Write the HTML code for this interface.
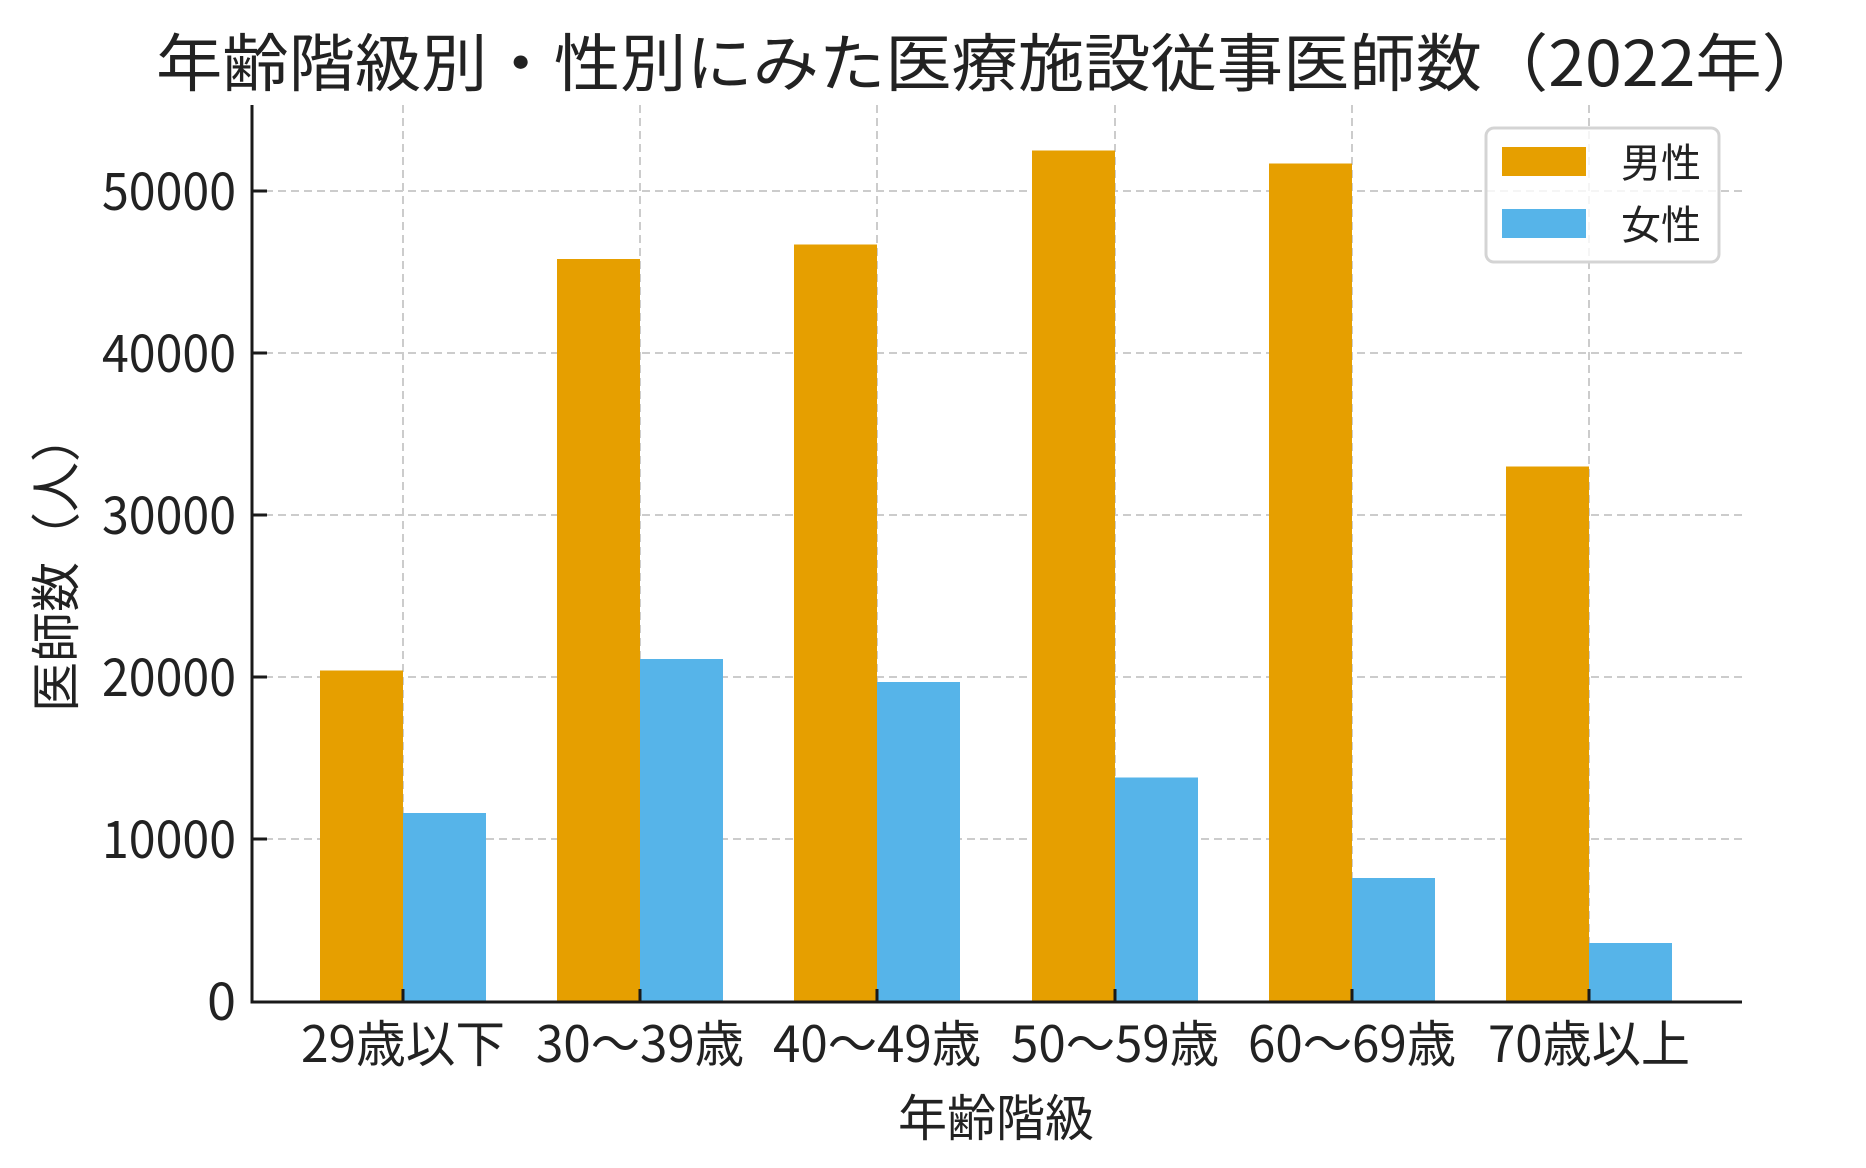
<!DOCTYPE html>
<html><head><meta charset="utf-8"><style>
html,body{margin:0;padding:0;background:#fff;}
svg{display:block;}
text{font-family:"Noto Sans CJK JP","Liberation Sans",sans-serif;fill:#222;}
</style></head><body>
<svg width="1866" height="1168" viewBox="0 0 1866 1168" xmlns="http://www.w3.org/2000/svg">
<rect width="1866" height="1168" fill="#fff"/>
<text x="992" y="86" font-size="63" text-anchor="middle" textLength="1672" lengthAdjust="spacingAndGlyphs">年齢階級別・性別にみた医療施設従事医師数（2022年）</text>
<g stroke="#cccccc" stroke-width="2" stroke-dasharray="8,5">
<line x1="252" y1="839" x2="1742" y2="839"/>
<line x1="252" y1="677" x2="1742" y2="677"/>
<line x1="252" y1="515" x2="1742" y2="515"/>
<line x1="252" y1="353" x2="1742" y2="353"/>
<line x1="252" y1="191" x2="1742" y2="191"/>
<line x1="403" y1="105" x2="403" y2="1001"/>
<line x1="640" y1="105" x2="640" y2="1001"/>
<line x1="877" y1="105" x2="877" y2="1001"/>
<line x1="1115" y1="105" x2="1115" y2="1001"/>
<line x1="1352" y1="105" x2="1352" y2="1001"/>
<line x1="1589" y1="105" x2="1589" y2="1001"/>
</g>
<g fill="#e69f00">
<rect x="320" y="670.5" width="83" height="331.5"/>
<rect x="557" y="259" width="83" height="743"/>
<rect x="794" y="244.5" width="83" height="757.5"/>
<rect x="1032" y="150.5" width="83" height="851.5"/>
<rect x="1269" y="163.5" width="83" height="838.5"/>
<rect x="1506" y="466.5" width="83" height="535.5"/>
</g>
<g fill="#56b4e9">
<rect x="403" y="813" width="83" height="189"/>
<rect x="640" y="659" width="83" height="343"/>
<rect x="877" y="682" width="83" height="320"/>
<rect x="1115" y="777.5" width="83" height="224.5"/>
<rect x="1352" y="878" width="83" height="124"/>
<rect x="1589" y="943" width="83" height="59"/>
</g>
<g stroke="#1a1a1a" stroke-width="3">
<line x1="252" y1="105" x2="252" y2="1003.5"/>
<line x1="250.5" y1="1002" x2="1742" y2="1002"/>
<line x1="252" y1="839" x2="267" y2="839"/><line x1="252" y1="677" x2="267" y2="677"/>
<line x1="252" y1="515" x2="267" y2="515"/><line x1="252" y1="353" x2="267" y2="353"/>
<line x1="252" y1="191" x2="267" y2="191"/>
<line x1="403" y1="1002" x2="403" y2="989"/><line x1="640" y1="1002" x2="640" y2="989"/>
<line x1="877" y1="1002" x2="877" y2="989"/><line x1="1115" y1="1002" x2="1115" y2="989"/>
<line x1="1352" y1="1002" x2="1352" y2="989"/><line x1="1589" y1="1002" x2="1589" y2="989"/>
</g>
<g font-size="52" text-anchor="end">
<text x="236" y="1020">0</text>
<text x="236" y="858" textLength="134" lengthAdjust="spacingAndGlyphs">10000</text>
<text x="236" y="696" textLength="134" lengthAdjust="spacingAndGlyphs">20000</text>
<text x="236" y="534" textLength="134" lengthAdjust="spacingAndGlyphs">30000</text>
<text x="236" y="372" textLength="134" lengthAdjust="spacingAndGlyphs">40000</text>
<text x="236" y="210" textLength="134" lengthAdjust="spacingAndGlyphs">50000</text>
</g>
<g font-size="50" text-anchor="middle">
<text x="403" y="1062" textLength="204" lengthAdjust="spacingAndGlyphs">29歳以下</text>
<text x="640" y="1062" textLength="208" lengthAdjust="spacingAndGlyphs">30～39歳</text>
<text x="877" y="1062" textLength="208" lengthAdjust="spacingAndGlyphs">40～49歳</text>
<text x="1115" y="1062" textLength="208" lengthAdjust="spacingAndGlyphs">50～59歳</text>
<text x="1352" y="1062" textLength="208" lengthAdjust="spacingAndGlyphs">60～69歳</text>
<text x="1589" y="1062" textLength="202" lengthAdjust="spacingAndGlyphs">70歳以上</text>
</g>
<text x="996" y="1136" font-size="50" text-anchor="middle" textLength="196" lengthAdjust="spacingAndGlyphs">年齢階級</text>
<text x="0" y="0" font-size="50" text-anchor="middle" transform="translate(74,562) rotate(-90)" textLength="300" lengthAdjust="spacingAndGlyphs">医師数（人）</text>
<rect x="1486" y="128" width="233" height="134" rx="8" fill="#fff" fill-opacity="0.8" stroke="#d4d4d4" stroke-width="3"/>
<rect x="1502" y="147" width="84" height="29" fill="#e69f00"/>
<rect x="1502" y="209" width="84" height="29" fill="#56b4e9"/>
<text x="1621" y="177" font-size="40">男性</text>
<text x="1621" y="239" font-size="40">女性</text>
</svg>
</body></html>
